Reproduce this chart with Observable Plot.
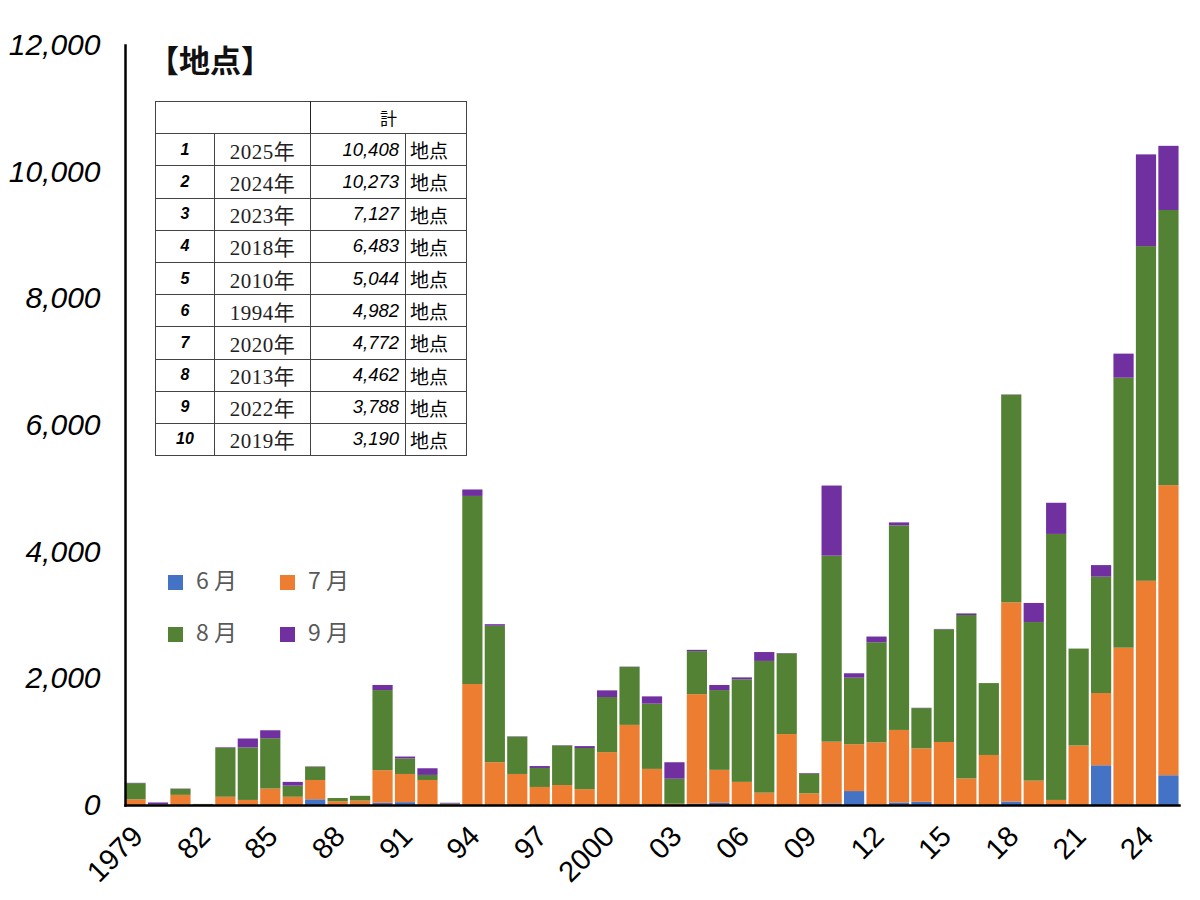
<!DOCTYPE html>
<html>
<head>
<meta charset="utf-8">
<script src="https://cdn.jsdelivr.net/npm/d3@7"></script>
<script src="https://cdn.jsdelivr.net/npm/@observablehq/plot@0.6"></script>
<style>
  html, body { margin: 0; padding: 0; background: #fff; }
  #wrap { position: relative; width: 1200px; height: 900px; }
  #title { position: absolute; left: 148px; top: 36px; font-family: "Noto Sans CJK JP", sans-serif; font-weight: 700; font-size: 31px; color: #111; }
  #rank { position: absolute; left: 155px; top: 101px; border-collapse: collapse; border: 1.5px solid #777; }
  #rank td { height: 31.2px; padding: 0; border: 1px solid #444; }
  #rank td.r { width: 58px; text-align: center; font-family: "Liberation Sans", Arial, sans-serif; font-weight: 700; font-style: italic; font-size: 16px; }
  #rank td.y { width: 95px; text-align: center; font-family: "Liberation Serif", "Noto Sans CJK JP", serif; font-size: 21px; letter-spacing: 0.5px; color: #222; }
  #rank td.v { width: 88px; text-align: right; padding-right: 6px; font-family: "Liberation Sans", Arial, sans-serif; font-style: italic; font-size: 18.5px; }
  #rank td.u { width: 56px; text-align: left; padding-left: 4px; border-left: 1px solid #ddd; font-family: "Noto Sans CJK JP", sans-serif; font-size: 19px; }
  #rank td.h { text-align: center; font-family: "Noto Sans CJK JP", sans-serif; font-size: 17px; }
  #legend { position: absolute; left: 168px; top: 562px; font-family: "Noto Sans CJK JP", sans-serif; font-size: 23px; color: #595959; }
  .li { position: absolute; white-space: nowrap; }
  .sw { display: inline-block; width: 15px; height: 15px; margin-right: 13px; vertical-align: -1px; }
</style>
</head>
<body>
<div id="wrap"></div>
<script>
const years = [1979,1980,1981,1982,1983,1984,1985,1986,1987,1988,1989,1990,1991,1992,1993,1994,1995,1996,1997,1998,1999,2000,2001,2002,2003,2004,2005,2006,2007,2008,2009,2010,2011,2012,2013,2014,2015,2016,2017,2018,2019,2020,2021,2022,2023,2024,2025];
const months = ["6月","7月","8月","9月"];
const monthColors = ["#4472C4","#ED7D31","#548235","#7030A0"];
const jun = [0,0,0,0,0,0,0,0,90,0,0,35,45,0,0,0,0,0,0,0,0,0,0,0,0,20,35,0,0,0,0,25,220,10,40,50,0,0,0,55,0,0,0,627,10,10,470];
const jul = [90,5,160,5,130,80,260,130,305,60,70,515,445,395,10,1910,675,490,285,315,250,835,1265,570,20,1730,520,365,195,1120,185,975,740,980,1145,845,995,420,790,3145,385,80,940,1141,2474,3530,4580];
const aug = [255,10,95,12,770,830,795,175,210,50,75,1265,245,80,15,2970,2155,590,300,625,650,870,915,1030,395,680,1260,1620,2080,1275,310,2937,1050,1580,3230,635,1780,2580,1135,3278,2505,4200,1530,1837,4263,5285,4345];
const sep = [5,25,5,0,10,140,125,60,5,0,0,80,30,105,10,102,25,5,30,5,30,105,5,115,260,20,80,30,140,5,10,1107,70,90,47,5,5,25,0,5,300,492,0,183,380,1448,1013];
const xTickYears = [1979,1982,1985,1988,1991,1994,1997,2000,2003,2006,2009,2012,2015,2018,2021,2024];
const yTicks = [0,2000,4000,6000,8000,10000,12000];
const rankNo = [1,2,3,4,5,6,7,8,9,10];
const rankYear = ["2025年","2024年","2023年","2018年","2010年","1994年","2020年","2013年","2022年","2019年"];
const rankTotal = ["10,408","10,273","7,127","6,483","5,044","4,982","4,772","4,462","3,788","3,190"];

const series = [jun, jul, aug, sep];
const data = [];
years.forEach((yr, i) => {
  months.forEach((m, k) => data.push({year: yr, month: m, value: series[k][i]}));
});

const chart = Plot.plot({
  width: 1200,
  height: 900,
  marginLeft: 125,
  marginRight: 21,
  marginTop: 45,
  marginBottom: 95,
  style: {background: "#fff"},
  x: {type: "band", domain: years, paddingInner: 0.1, paddingOuter: 0.02, round: false, label: null},
  y: {domain: [0, 12000], label: null},
  color: {domain: months, range: monthColors},
  marks: [
    Plot.barY(data, {x: "year", y: "value", fill: "month"}),
    Plot.axisY({ticks: yTicks, tickSize: 0, tickPadding: 25, tickFormat: d => d3.format(",")(d),
      fontSize: 30, fontStyle: "italic", fontFamily: "Liberation Sans, Arial, sans-serif", fill: "#000"}),
    Plot.axisX({ticks: xTickYears, tickSize: 0, tickPadding: 20, tickRotate: -45, dx: 2, dy: 6,
      tickFormat: d => (d === 1979 || d === 2000) ? String(d) : String(d).slice(2),
      fontSize: 29, fontFamily: "Liberation Sans, Arial, sans-serif", fill: "#000"}),
    Plot.frame({anchor: "left", stroke: "#000", strokeWidth: 2.5}),
    Plot.frame({anchor: "bottom", stroke: "#000", strokeWidth: 2.5})
  ]
});

const wrap = document.getElementById("wrap");
wrap.appendChild(chart);

const title = document.createElement("div");
title.id = "title";
title.textContent = "【地点】";
wrap.appendChild(title);

const table = document.createElement("table");
table.id = "rank";
let html = '<tr><td colspan="2" style="border-right:1px solid #222"></td><td colspan="2" class="h">計</td></tr>';
rankNo.forEach((n, i) => {
  html += `<tr><td class="r">${n}</td><td class="y">${rankYear[i]}</td><td class="v">${rankTotal[i]}</td><td class="u">地点</td></tr>`;
});
table.innerHTML = html;
wrap.appendChild(table);

const legend = document.createElement("div");
legend.id = "legend";
const pos = [[0,0],[112,0],[0,52],[112,52]];
months.forEach((m, k) => {
  const d = document.createElement("div");
  d.className = "li";
  d.style.left = pos[k][0] + "px";
  d.style.top = pos[k][1] + "px";
  d.innerHTML = `<span class="sw" style="background:${monthColors[k]}"></span>${m.replace("月", " 月")}`;
  legend.appendChild(d);
});
wrap.appendChild(legend);
</script>
</body>
</html>
